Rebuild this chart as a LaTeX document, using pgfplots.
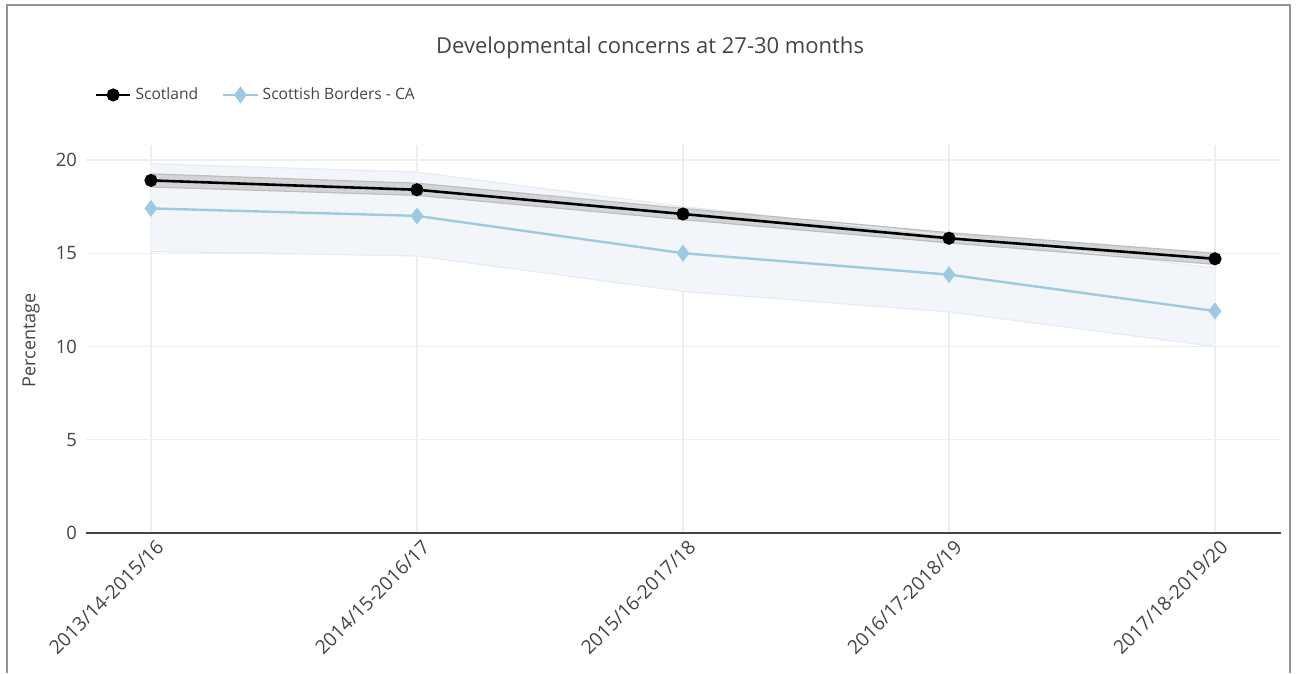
\documentclass[border=0pt]{standalone}
\usepackage{fontspec}
\setmainfont{Open Sans}
\usepackage{pgfplots}
\pgfplotsset{compat=1.18}
\usepgfplotslibrary{fillbetween}
\definecolor{txt}{HTML}{444444}
\definecolor{gridc}{HTML}{EEEEEE}
\definecolor{bord}{HTML}{9ECAE1}
\definecolor{bordband}{HTML}{F2F6FA}
\definecolor{bordedge}{HTML}{E4EDF5}
\definecolor{scotband}{HTML}{D2D4D6}
\definecolor{scotedge}{HTML}{BCBEC0}

\pgfplotstableread{
x  scot  scotlo scothi bord  bordlo bordhi
0  18.9  18.55  19.25  17.4  15.1   19.8
1  18.4  18.1   18.75  17.0  14.85  19.35
2  17.1  16.8   17.4   15.0  12.95  17.5
3  15.8  15.55  16.1   13.85 11.85  15.95
4  14.7  14.4   15.0   11.9  10.0   14.2
}\data

\begin{document}
\begin{tikzpicture}
\path (0,0) rectangle (648pt,336.5pt);
\draw[gray!85, line width=1pt] (3.5pt,0) -- (3.5pt,334pt) -- (645pt,334pt) -- (645pt,0);
\begin{axis}[
  at={(43pt,70pt)}, anchor=south west,
  scale only axis, width=597.5pt, height=194pt,
  xmin=-0.244, xmax=4.248, ymin=0, ymax=20.8,
  xtick={0,...,4},
  xticklabels={2013/14-2015/16,2014/15-2016/17,2015/16-2017/18,2016/17-2018/19,2017/18-2019/20},
  ytick={0,5,...,20},
  axis line style={draw=none},
  major tick length=0pt,
  grid=major, grid style={gridc, line width=0.6pt},
  tick label style={text=txt},
  /pgf/number format/assume math mode=true,
  xticklabel style={rotate=45, anchor=east, xshift=3pt, yshift=-7pt, font=\fontsize{9.6}{11}\selectfont},
  yticklabel style={xshift=-1pt, font=\fontsize{9.2}{11}\selectfont},
  title={Developmental concerns at 27-30 months},
  title style={at={(axis description cs:0.472,1.219)}, anchor=center, font=\fontsize{11}{13}\selectfont, text=txt},
  ylabel={Percentage},
  ylabel style={at={(axis description cs:-0.046,0.497)}, anchor=center, font=\fontsize{9}{11}\selectfont, text=txt},
  legend style={at={(axis description cs:0.002,1.129)}, anchor=west, draw=none, fill=none,
    font=\fontsize{7.8}{9}\selectfont, text=txt, legend columns=-1,
    /tikz/every even column/.append style={column sep=10pt}},
  clip=false,
]
% Scottish Borders confidence band
\addplot[name path=bhi, bordedge, line width=0.6pt, forget plot] table[x=x,y=bordhi]{\data};
\addplot[name path=blo, bordedge, line width=0.6pt, forget plot] table[x=x,y=bordlo]{\data};
\addplot[bordband, forget plot] fill between[of=bhi and blo];
% Scotland confidence band
\addplot[name path=shi, scotedge, line width=0.6pt, forget plot] table[x=x,y=scothi]{\data};
\addplot[name path=slo, scotedge, line width=0.6pt, forget plot] table[x=x,y=scotlo]{\data};
\addplot[scotband, forget plot] fill between[of=shi and slo];
% lines
\addplot[black, line width=1.3pt, mark=*, mark size=2.6pt] table[x=x,y=scot]{\data};
\addlegendentry{Scotland}
\addplot[bord, line width=1.2pt, mark=diamond*, mark size=3.3pt, mark options={fill=bord, draw=bord}] table[x=x,y=bord]{\data};
\addlegendentry{Scottish Borders - CA}
\draw[txt, line width=0.8pt] (axis cs:-0.244,0) -- (axis cs:4.248,0);
\end{axis}
\end{tikzpicture}
\end{document}
